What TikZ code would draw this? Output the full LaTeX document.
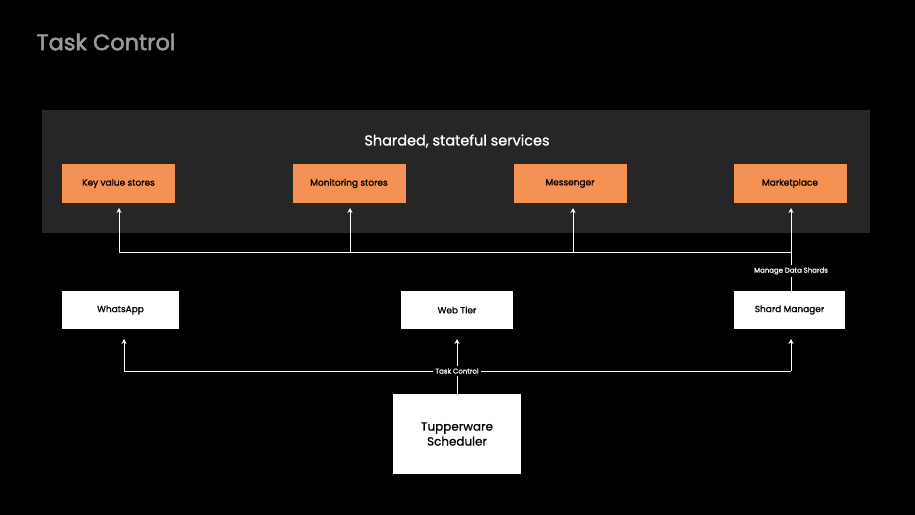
\documentclass[tikz,border=0pt]{standalone}
\usepackage{fontspec}
\setmainfont{Poppins}
\newfontfamily\medfont{Poppins}[FakeBold=1]
\newfontfamily\headfont{Poppins}[FakeBold=2.2]
\usetikzlibrary{arrows.meta,positioning}
\definecolor{panelgray}{HTML}{262626}
\definecolor{shardorange}{HTML}{F59152}
\definecolor{titlegray}{HTML}{9A9A9A}
\tikzset{
  svc/.style={draw=none,fill=shardorange,minimum width=113bp,minimum height=39bp,font=\medfont\fontsize{9}{10}\selectfont,text=black},
  app/.style={draw=none,fill=white,minimum width=115bp,minimum height=38bp,font=\medfont\fontsize{9}{10}\selectfont,text=black},
  lbl/.style={fill=black,text=white,font=\medfont\fontsize{7}{8}\selectfont,inner sep=2pt},
  wire/.style={draw=white,line width=1pt},
  up/.style={wire,-{Stealth[length=5pt,width=5pt]}}
}
\begin{document}
\begin{tikzpicture}[x=1bp,y=-1bp]
   \fill[black] (0,0) rectangle (915,515);
   \useasboundingbox (0,0) rectangle (915,515);
   \node[anchor=west,text=titlegray,font=\headfont\fontsize{22.5}{26}\selectfont] (title) at (33,42) {Task Control};
   % sharded services
   \fill[panelgray] (42,110) rectangle (870,233);
   \node[text=white,font=\medfont\fontsize{14.5}{16}\selectfont] (sharded) at (457,141) {Sharded, stateful services};
   \node[svc] (kv) at (118.5,183.5) {Key value stores};
   \node[svc] (mon) at (349,183.5) {Monitoring stores};
   \node[svc] (msg) at (570,183.5) {Messenger};
   \node[svc] (mkt) at (790,183.5) {Marketplace};
   % apps
   \node[app,minimum width=117bp] (wa) at (120.5,310) {WhatsApp};
   \node[app,minimum width=112bp] (web) at (457,310) {Web Tier};
   \node[app,minimum width=111bp] (sm) at (789.5,310) {Shard Manager};
   \node[app,minimum width=128bp,minimum height=80bp,font=\medfont\fontsize{12}{15}\selectfont,align=center] (tw) at (457,434) {Tupperware\\Scheduler};
   % bus to services
   \coordinate (bus) at (791,252);
   \node[lbl] (mds) at (791,271) {Manage Data Shards};
   \draw[wire] (sm.north -| bus) -- (mds);
   \draw[wire] (mds) -- (bus) -- (119,252);
   \draw[up] (119,252) -- (119,208);
   \draw[up] (350,252) -- (350,208);
   \draw[up] (573,252) -- (573,208);
   \draw[up] (bus) -- (791,208);
   % task control
   \node[lbl] (tc) at (457,371) {Task Control};
   \draw[wire] (tw) -- (tc);
   \draw[up] (tc) -- (457,339);
   \draw[wire] (tc.west) -- (124,371);
   \draw[up] (124,371) -- (124,339);
   \draw[wire] (tc.east) -- (791,371);
   \draw[up] (791,371) -- (791,339);
\end{tikzpicture}
\end{document}
